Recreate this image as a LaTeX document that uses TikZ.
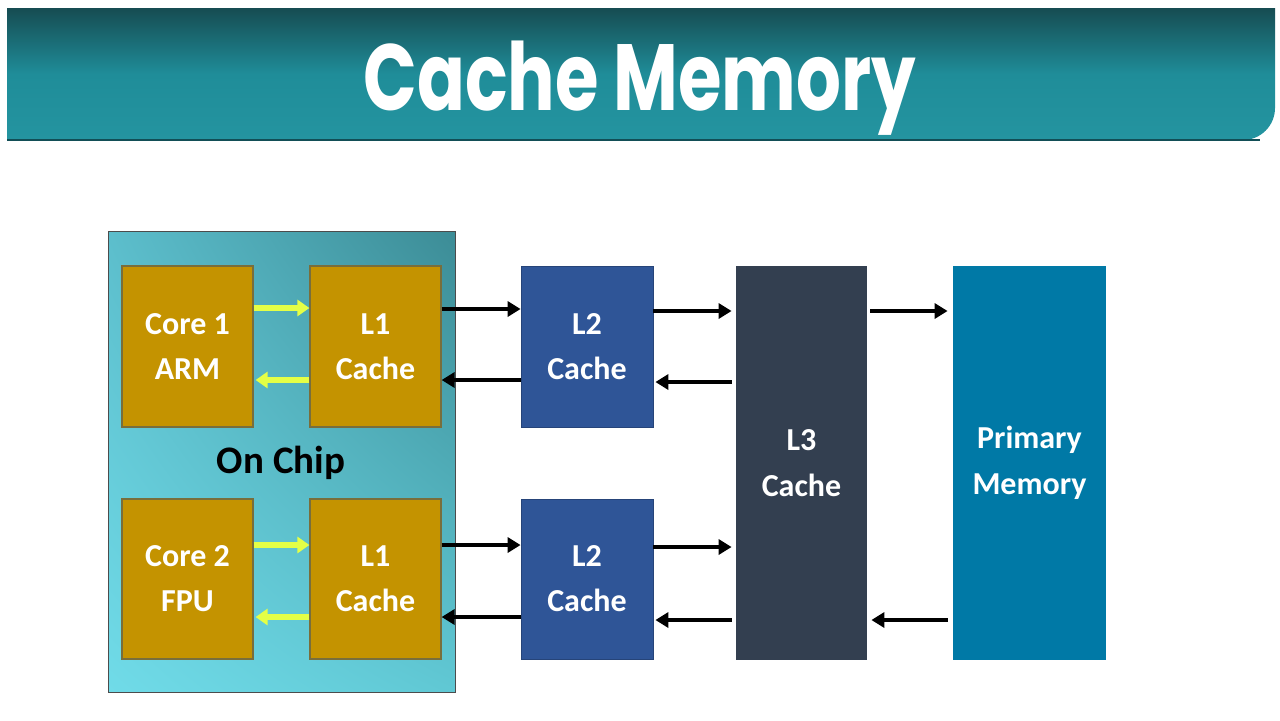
\documentclass[tikz,border=0pt]{standalone}
\usepackage{fontspec}
\usepackage{graphicx}
\setmainfont{Carlito}
\newfontfamily\titlefont{Poppins}
\usetikzlibrary{arrows.meta,shadings}
\definecolor{bantop}{RGB}{22,76,82}
\definecolor{banmid}{RGB}{31,141,153}
\definecolor{banbot}{RGB}{36,148,160}
\definecolor{banedge}{RGB}{18,78,86}
\definecolor{chipUL}{RGB}{92,190,204}
\definecolor{chipUR}{RGB}{60,140,150}
\definecolor{chipLL}{RGB}{112,219,232}
\definecolor{chipLR}{RGB}{96,200,212}
\definecolor{gold}{RGB}{196,147,0}
\definecolor{goldedge}{RGB}{120,110,60}
\definecolor{ltwo}{RGB}{47,85,151}
\definecolor{lthree}{RGB}{51,63,80}
\definecolor{pmem}{RGB}{0,121,166}
\definecolor{yarrow}{RGB}{228,255,70}
\tikzset{
  corebox/.style={fill=gold, draw=goldedge, line width=0.6pt, minimum width=65.5pt, minimum height=80.5pt, inner sep=0pt, text=white, font=\fontsize{16}{22.5}\selectfont\bfseries, align=center},
  ltwobox/.style={fill=ltwo, draw=ltwo!80!black, line width=0.4pt, minimum width=66pt, minimum height=80.5pt, inner sep=0pt, text=white, font=\fontsize{16}{22.5}\selectfont\bfseries, align=center},
  tallbox/.style={minimum height=197pt, inner sep=0pt, text=white, font=\fontsize{16}{23}\selectfont\bfseries, align=center},
  yarr/.style={draw=yarrow, line width=2.8pt, -{Triangle[length=6pt,width=8pt]}},
  barr/.style={draw=black, line width=2.1pt, -{Triangle[length=6.5pt,width=7.5pt]}}
}
\begin{document}
\begin{tikzpicture}[x=0.5pt,y=-0.5pt]
\useasboundingbox (0,0) rectangle (1280,720);
\fill[white] (0,0) rectangle (1280,720);
% banner
\shade[top color=bantop, bottom color=banbot, middle color=banmid] (7,140) -- (7,8) -- (1275,8) [rounded corners=16] -- (1275,140) [sharp corners] -- cycle;
\draw[banedge, line width=1.2pt] (7,140) -- (1260,140);
\node (title) at (640,88) {\scalebox{0.75}[1]{\fontsize{47}{50}\titlefont\bfseries\color{white}Cache Memory}};
% chip
\node[draw=black!70, line width=0.5pt, upper left=chipUL, upper right=chipUR, lower left=chipLL, lower right=chipLR, minimum width=173.5pt, minimum height=230.5pt, inner sep=0pt] (chip) at (281.5,461.5) {};
\node[font=\fontsize{19.5}{22}\selectfont\bfseries, text=black] (onchip) at (281,463) {On Chip};
% boxes
\node[corebox] (c1) at (187.5,346.5) {Core 1\\ARM};
\node[corebox] (l1a) at (375.5,346.5) {L1\\Cache};
\node[corebox, minimum height=80pt] (c2) at (187.5,579) {Core 2\\FPU};
\node[corebox, minimum height=80pt] (l1b) at (375.5,579) {L1\\Cache};
\node[ltwobox] (l2a) at (587,346.5) {L2\\Cache};
\node[ltwobox, minimum height=80pt] (l2b) at (587,579) {L2\\Cache};
\node[tallbox, fill=lthree, minimum width=65.5pt] (l3) at (801.5,463) {L3\\Cache};
\node[tallbox, fill=pmem, minimum width=76.5pt] (pm) at (1029.5,463) {Primary\\Memory};
% yellow arrows
\draw[yarr] (c1.east |- 0,308) -- (l1a.west |- 0,308);
\draw[yarr] (l1a.west |- 0,380) -- ([xshift=1pt]c1.east |- 0,380);
\draw[yarr] (c2.east |- 0,545) -- (l1b.west |- 0,545);
\draw[yarr] (l1b.west |- 0,617) -- ([xshift=1pt]c2.east |- 0,617);
% black arrows
\draw[barr] (l1a.east |- 0,309) -- (l2a.west |- 0,309);
\draw[barr] (l2a.west |- 0,380) -- (l1a.east |- 0,380);
\draw[barr] (l1b.east |- 0,545) -- (l2b.west |- 0,545);
\draw[barr] (l2b.west |- 0,617) -- (l1b.east |- 0,617);
\draw[barr, shorten >=2pt] (l2a.east |- 0,311) -- (l3.west |- 0,311);
\draw[barr, shorten <=2pt, shorten >=1pt] (l3.west |- 0,382) -- (l2a.east |- 0,382);
\draw[barr, shorten >=2pt] (l2b.east |- 0,547) -- (l3.west |- 0,547);
\draw[barr, shorten <=2pt, shorten >=1pt] (l3.west |- 0,620) -- (l2b.east |- 0,620);
\draw[barr, shorten <=1.5pt, shorten >=2.5pt] (l3.east |- 0,311) -- (pm.west |- 0,311);
\draw[barr, shorten <=2.5pt, shorten >=2pt] (pm.west |- 0,620) -- (l3.east |- 0,620);
\end{tikzpicture}
\end{document}
